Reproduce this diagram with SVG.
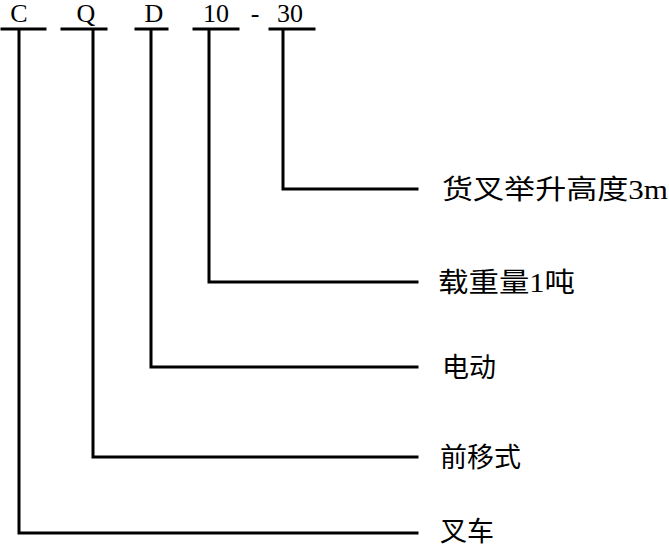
<svg xmlns="http://www.w3.org/2000/svg" width="669" height="547" viewBox="0 0 669 547">
<style>
.code{font-family:"Liberation Serif","Times New Roman",serif;font-size:26px;fill:#000;text-anchor:middle}
.lbl{font-family:"Liberation Serif","Noto Sans CJK SC",serif;font-size:27px;fill:#000}
.ln{stroke:#000;stroke-width:3;fill:none;stroke-linecap:square}
</style>
<rect width="669" height="547" fill="#fff"/>
<g id="code">
<text class="code" x="19" y="22">C</text>
<text class="code" x="86" y="22">Q</text>
<text class="code" x="154" y="22">D</text>
<text class="code" x="216" y="22">10</text>
<text class="code" x="255" y="22">-</text>
<text class="code" x="290" y="22">30</text>
</g>
<g id="connectors">
<path class="ln" d="M2 29H45M19 29V533H417"/>
<path class="ln" d="M62 29H106M93 29V457H417"/>
<path class="ln" d="M136 29H167M151 29V367H417"/>
<path class="ln" d="M194 29H238M209 29V282H417"/>
<path class="ln" d="M270 29H314M283 29V189H417"/>
</g>
<g id="n1"><text class="lbl" x="442" y="199" textLength="226" lengthAdjust="spacingAndGlyphs">货叉举升高度3m</text></g>
<g id="n2"><text class="lbl" x="438" y="292" textLength="137" lengthAdjust="spacingAndGlyphs">载重量1吨</text></g>
<g id="n3"><text class="lbl" x="442" y="377">电动</text></g>
<g id="n4"><text class="lbl" x="440" y="467">前移式</text></g>
<g id="n5"><text class="lbl" x="440" y="541">叉车</text></g>
</svg>
